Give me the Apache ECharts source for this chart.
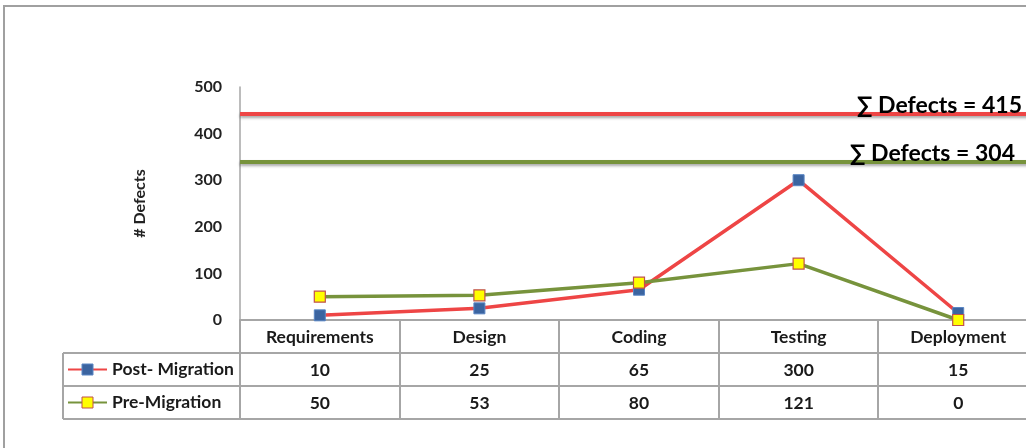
<!DOCTYPE html>
<html>
<head>
<meta charset="utf-8">
<script src="https://cdn.jsdelivr.net/npm/echarts@6/dist/echarts.min.js"></script>
<style>
html,body{margin:0;padding:0;background:#fff;}
#chart{width:1026px;height:448px;}
</style>
</head>
<body>
<div id="chart"></div>
<script>
const categories = ['Requirements', 'Design', 'Coding', 'Testing', 'Deployment'];
const postMigration = [10, 25, 65, 300, 15];
const preMigration = [50, 53, 80, 121, 0];
const seriesNames = ['Post- Migration', 'Pre-Migration'];
const yAxisName = '# Defects';
const yMin = 0, yMax = 500, yInterval = 100;
const sumLineValues = [442, 339];
const sumLabels = ['\u2211 Defects = 415', '\u2211 Defects = 304'];

const FONT = 'Lato, "Open Sans", sans-serif';
const RED = '#ee4545';
const GREEN = '#77933c';
const GRID_COLOR = '#a6a6a6';

const chart = echarts.init(document.getElementById('chart'), null, {renderer: 'canvas'});

const sumLineStyle = (color) => ({
  color: color, width: 4, type: 'solid',
  shadowColor: 'rgba(0,0,0,0.35)', shadowBlur: 3, shadowOffsetY: 2
});

const option = {
  backgroundColor: '#fff',
  animation: false,
  grid: {left: 240, top: 87, width: 798, height: 233, containLabel: false, outerBoundsMode: 'none'},
  xAxis: {
    type: 'category',
    data: categories,
    boundaryGap: true,
    axisLine: {show: true, lineStyle: {color: GRID_COLOR, width: 2}},
    axisTick: {show: false},
    axisLabel: {show: false}
  },
  yAxis: {
    type: 'value',
    min: yMin, max: yMax, interval: yInterval,
    name: yAxisName,
    nameLocation: 'middle',
    nameGap: 92,
    nameRotate: 90,
    nameTextStyle: {fontFamily: FONT, fontWeight: 'bold', fontSize: 16, color: '#222'},
    axisLine: {show: true, lineStyle: {color: GRID_COLOR, width: 1.5}},
    axisTick: {show: false},
    splitLine: {show: false},
    axisLabel: {fontFamily: FONT, fontWeight: 'bold', fontSize: 16, color: '#222', margin: 18}
  },
  series: [
    {
      name: seriesNames[0],
      type: 'line',
      data: postMigration,
      symbol: 'rect',
      symbolSize: 11,
      z: 3,
      lineStyle: {color: RED, width: 3.5},
      itemStyle: {color: '#3b64a0', borderColor: '#5a86c4', borderWidth: 1},
      markLine: {
        silent: true, symbol: 'none',
        label: {show: false},
        lineStyle: sumLineStyle(RED),
        data: [{yAxis: sumLineValues[0]}]
      }
    },
    {
      name: seriesNames[1],
      type: 'line',
      data: preMigration,
      symbol: 'rect',
      symbolSize: 11,
      z: 4,
      lineStyle: {color: GREEN, width: 3.5},
      itemStyle: {color: '#ffff00', borderColor: '#c0504d', borderWidth: 1.2},
      markLine: {
        silent: true, symbol: 'none',
        label: {show: false},
        lineStyle: sumLineStyle(GREEN),
        data: [{yAxis: sumLineValues[1]}]
      }
    }
  ]
};
chart.setOption(option);

// Build data table and annotations from the chart's own scales
function buildGraphics() {
  const g = [];
  const cx = categories.map((c) => chart.convertToPixel({xAxisIndex: 0}, c));
  const band = cx[1] - cx[0];
  const y0 = chart.convertToPixel({yAxisIndex: 0}, yMin);
  const rowH = 33;
  const leftX = 63;
  const firstX = cx[0] - band / 2;
  const lastX = cx[cx.length - 1] + band / 2;
  const lineStyle = {stroke: GRID_COLOR, lineWidth: 2};

  // outer frame
  g.push({type: 'rect', shape: {x: 4, y: 6, width: 1040, height: 470}, style: {fill: 'none', stroke: '#a0a0a0', lineWidth: 2}, z: 0});

  // horizontal table lines
  for (let r = 1; r <= 3; r++) {
    const y = Math.round(y0 + r * rowH);
    g.push({type: 'line', shape: {x1: leftX, y1: y, x2: lastX, y2: y}, style: lineStyle});
  }
  // vertical lines at category boundaries
  for (let i = 0; i <= categories.length; i++) {
    const x = Math.round(firstX + i * band);
    g.push({type: 'line', shape: {x1: x, y1: y0, x2: x, y2: y0 + 3 * rowH}, style: lineStyle});
  }
  g.push({type: 'line', shape: {x1: leftX, y1: y0 + rowH, x2: leftX, y2: y0 + 3 * rowH}, style: lineStyle});

  const textStyle = (txt, x, y, align) => ({
    type: 'text', x: x, y: y,
    style: {text: txt, fontFamily: FONT, fontWeight: 'bold', fontSize: 17.5, fill: '#1a1a1a', align: align || 'center', verticalAlign: 'middle'}
  });
  // header row
  categories.forEach((c, i) => g.push(textStyle(c, cx[i], y0 + rowH / 2 + 1)));
  // value rows
  const rows = [postMigration, preMigration];
  rows.forEach((vals, r) => {
    const yc = y0 + rowH * (r + 1) + rowH / 2 + 1;
    vals.forEach((v, i) => g.push(textStyle(String(v), cx[i], yc)));
  });
  // legend keys
  const keys = [
    {line: RED, fill: '#3b64a0', stroke: '#5a86c4'},
    {line: GREEN, fill: '#ffff00', stroke: '#c0504d'}
  ];
  keys.forEach((k, r) => {
    const yc = y0 + rowH * (r + 1) + rowH / 2;
    g.push({type: 'line', shape: {x1: 68, y1: yc, x2: 107, y2: yc}, style: {stroke: k.line, lineWidth: 2}});
    g.push({type: 'rect', shape: {x: 82, y: yc - 5.5, width: 11, height: 11}, style: {fill: k.fill, stroke: k.stroke, lineWidth: 1}});
    g.push(textStyle(seriesNames[r], 112, yc, 'left'));
  });

  // sum annotations
  sumLineValues.forEach((v, i) => {
    const y = chart.convertToPixel({yAxisIndex: 0}, v);
    g.push({type: 'text', x: i === 0 ? 1022 : 1015, y: y + 3, z: 10,
      style: {text: sumLabels[i], fontFamily: FONT, fontWeight: 'bold', fontSize: 23, fill: '#000', align: 'right', verticalAlign: 'bottom'}});
  });
  chart.setOption({graphic: g});
}
buildGraphics();
</script>
</body>
</html>
